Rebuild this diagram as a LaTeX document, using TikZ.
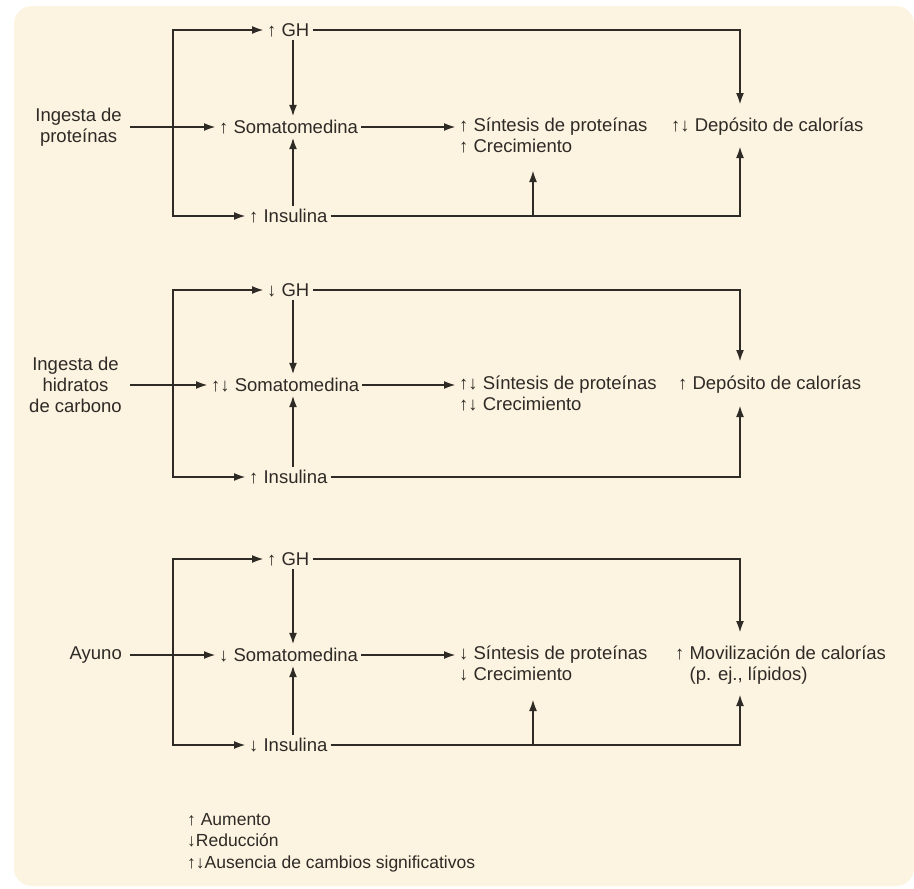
\documentclass[tikz,border=0pt]{standalone}
\usepackage{fontspec}
\setmainfont{Liberation Sans}
\usetikzlibrary{arrows.meta}
\definecolor{bg}{HTML}{FCF3E0}
\definecolor{ink}{HTML}{2E2A26}
\tikzset{
  lbl/.style={anchor=west,inner sep=3pt,font=\fontsize{18.5}{21}\selectfont,text=ink},
  inlbl/.style={anchor=east,align=center,inner sep=2pt,font=\fontsize{18.5}{21}\selectfont,text=ink},
  con/.style={draw=ink,line width=2.2pt,-{Latex[length=12pt,width=8pt]}},
}
\begin{document}
\begin{tikzpicture}[x=1pt,y=-1pt]
\useasboundingbox (0,0) rectangle (914,889);
\fill[white] (0,0) rectangle (914,889);
\fill[bg,rounded corners=18pt] (14,6) rectangle (914,886);
% ---------- panel 1
\node[inlbl] (in1) at (124,127) {Ingesta de\\proteínas};
\node[lbl] (gh1) at (264,30) {↑ GH};
\node[lbl] (so1) at (216,127) {↑ Somatomedina};
\node[lbl] (in1s) at (246,216) {↑ Insulina};
\node[lbl,align=left,anchor=north west] (sp1) at (456,115) {↑ Síntesis de proteínas\\↑ Crecimiento};
\node[lbl] (de1) at (668,127) {↑↓ Depósito de calorías};
\coordinate (j1) at (173,127);
\coordinate (dt1) at (740,105);
\coordinate (db1) at (740,146);
\coordinate (b1) at (533,216);
\coordinate (bt1) at (533,170);
\draw[con] (in1.east -| 130,0) -- (so1.west);
\draw[con] (j1) |- (gh1.west);
\draw[con] (j1) |- (in1s.west);
\draw[con] (gh1.south -| 293,0) -- (so1.north -| 293,0);
\draw[con] (in1s.north -| 293,0) -- (so1.south -| 293,0);
\draw[con] (so1.east) -- (sp1.west |- so1.east);
\draw[con] (gh1.east) -| (dt1);
\draw[con] (in1s.east) -| (db1);
\draw[con] (b1) -- (bt1);
% ---------- panel 2
\node[inlbl] (in2) at (124,385) {Ingesta de\\hidratos\\de carbono};
\node[lbl] (gh2) at (264,290) {↓ GH};
\node[lbl] (so2) at (208,385) {↑↓ Somatomedina};
\node[lbl] (in2s) at (246,477) {↑ Insulina};
\node[lbl,align=left,anchor=north west] (sp2) at (456,373) {↑↓ Síntesis de proteínas\\↑↓ Crecimiento};
\node[lbl] (de2) at (675,385) {↑ Depósito de calorías};
\coordinate (j2) at (173,385);
\coordinate (dt2) at (740,362);
\coordinate (db2) at (740,405);
\draw[con] (in2.east -| 130,0) -- (so2.west);
\draw[con] (j2) |- (gh2.west);
\draw[con] (j2) |- (in2s.west);
\draw[con] (gh2.south -| 293,0) -- (so2.north -| 293,0);
\draw[con] (in2s.north -| 293,0) -- (so2.south -| 293,0);
\draw[con] (so2.east) -- (sp2.west |- so2.east);
\draw[con] (gh2.east) -| (dt2);
\draw[con] (in2s.east) -| (db2);
% ---------- panel 3
\node[inlbl] (in3) at (124,655) {Ayuno};
\node[lbl] (gh3) at (264,559) {↑ GH};
\node[lbl] (so3) at (216,655) {↓ Somatomedina};
\node[lbl] (in3s) at (246,745) {↓ Insulina};
\node[lbl,align=left,anchor=north west] (sp3) at (456,643) {↓ Síntesis de proteínas\\↓ Crecimiento};
\node[lbl,align=left,anchor=north west] (de3) at (672,643) {↑ Movilización de calorías\\\phantom{↑} (p. ej., lípidos)};
\coordinate (j3) at (173,655);
\coordinate (dt3) at (740,633);
\coordinate (db3) at (740,694);
\coordinate (b3) at (533,745);
\coordinate (bt3) at (533,699);
\draw[con] (in3.east -| 130,0) -- (so3.west);
\draw[con] (j3) |- (gh3.west);
\draw[con] (j3) |- (in3s.west);
\draw[con] (gh3.south -| 293,0) -- (so3.north -| 293,0);
\draw[con] (in3s.north -| 293,0) -- (so3.south -| 293,0);
\draw[con] (so3.east) -- (sp3.west |- so3.east);
\draw[con] (gh3.east) -| (dt3);
\draw[con] (in3s.east) -| (db3);
\draw[con] (b3) -- (bt3);
% ---------- legend
\node[lbl,align=left,anchor=north west,font=\fontsize{17.5}{21.5}\selectfont] (leg) at (184,810)
 {↑ Aumento\\\phantom{↑}\llap{↓}Reducción\\↑↓Ausencia de cambios significativos};
\end{tikzpicture}
\end{document}
